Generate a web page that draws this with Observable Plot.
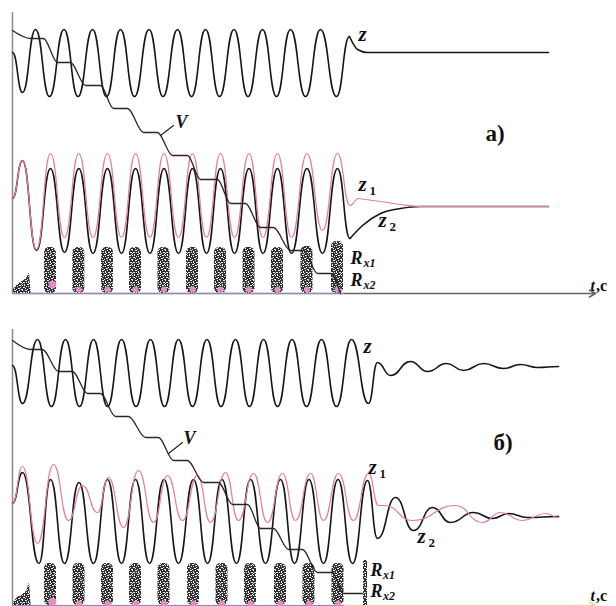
<!DOCTYPE html>
<html><head><meta charset="utf-8">
<script src="https://cdn.jsdelivr.net/npm/d3@7"></script>
<script src="https://cdn.jsdelivr.net/npm/@observablehq/plot@0.6"></script>
<style>
body{margin:0;background:#fff}
#c{width:616px;height:606px;overflow:hidden;position:relative}
#c svg{display:block}
</style>
</head><body><div id="c"></div>
<script>
// ---------- DATA (t in arbitrary time units, values in arbitrary units) ----------
// Panel a)
const zTopOsc = [[0,24.1],[1.0,20.1],[2.3,26.4],[3.7,19.7],[5.15,26.4],[6.55,19.7],[8.0,26.4],[9.4,19.7],[10.8,26.4],[12.2,19.7],[13.65,26.4],[15.05,19.7],[16.5,26.4],[17.9,19.7],[19.3,26.4],[20.7,19.7],[22.15,26.4],[23.55,19.7],[25.0,26.4],[26.4,19.7],[27.8,26.4],[29.3,19.7],[30.8,26.4],[32.4,19.7],[33.7,25.7]];
const zTopTail = [[33.7,25.7],[34.5,24.4],[35.5,24.1],[53.6,24.1]];
const z2TopOsc = [[0,9.5],[1.0,13.3],[2.4,4.3],[3.8,12.5],[5.2,4.1],[6.63,12.5],[8.05,4.0],[9.5,12.5],[10.9,4.0],[12.3,12.5],[13.75,4.0],[15.15,12.5],[16.6,4.0],[18.0,12.5],[19.4,4.0],[20.8,12.5],[22.2,4.0],[23.65,12.5],[25.05,4.0],[26.5,12.5],[27.9,4.0],[29.45,12.5],[31.0,4.0],[32.5,12.5],[33.75,5.5]];
const z2TopTail = [[33.75,5.5],[35.0,6.8],[36.8,8.0],[38.8,8.5],[40.8,8.7],[53.6,8.7]];
const z1TopOsc = [[0,9.5],[1.0,13.3],[2.4,4.4],[3.8,14.0],[5.2,5.6],[6.63,14.0],[8.05,5.6],[9.5,14.0],[10.9,5.6],[12.3,14.0],[13.75,5.6],[15.15,14.0],[16.6,5.6],[18.0,14.0],[19.4,5.6],[20.8,14.0],[22.2,5.6],[23.65,14.0],[25.05,5.6],[26.5,14.0],[27.9,5.6],[29.45,14.0],[31.0,6.3],[32.5,14.0],[33.75,8.8],[34.6,9.5]];
const z1TopTail = [[34.6,9.5],[36.8,9.2],[38.8,8.9],[40.8,8.7],[53.6,8.7]];
const vTop = [[0,26.3],[1.8,25.5],[3.1,25.5],[4.5,23.1],[5.8,23.1],[7.3,20.8],[8.8,20.8],[10.1,18.5],[11.5,18.5],[13.1,16.1],[14.5,16.1],[16.0,13.8],[17.5,13.8],[18.8,11.4],[20.5,11.4],[21.8,9.0],[23.3,9.0],[24.8,6.6],[26.1,6.6],[27.8,4.3],[29.1,4.3],[30.5,2.0],[31.8,2.0],[32.8,0]];
const vLeaderTop = [[14.8,15.8],[16.1,16.8]];
const burstsTop = [[3.8,4.6],[6.63,4.6],[9.5,4.6],[12.3,4.6],[15.15,4.6],[18.0,4.6],[20.8,4.6],[23.65,4.6],[26.5,4.6],[29.45,4.7],[32.5,5.2]];
const smallBurstTop = [[0.1,0.4],[0.5,0.9],[1.0,1.2],[1.4,1.5],[1.7,2.1],[1.85,0.2]];
const blobsTop = [[4.0,0.9,5],[6.63,0.4,3],[9.5,0.4,3],[12.3,0.4,3],[15.15,0.4,3],[18.0,0.4,3],[20.8,0.4,3],[23.65,0.4,3],[26.5,0.4,3],[29.45,0.4,3],[32.5,0.4,3]];
const zLabelsTop = [[34.6,25.3,"z"],[34.6,10.3,"z"],[36.6,6.7,"z"]];
const rLabelsTop = [[33.8,3.0,"R"],[33.8,0.75,"R"]];
const numSubsTop = [[35.7,9.9,"1"],[37.7,6.3,"2"]];
const xSubsTop = [[35.1,2.7,"x1"],[35.1,0.45,"x2"]];
const tagTop = [[47.3,15.3,"a)"]];
const vLabelTop = [[16.3,16.6,"V"]];

// Panel б)
const zBot = [[0,24.0],[1.0,20.2],[2.5,26.6],[3.9,19.9],[5.3,26.6],[6.7,19.9],[8.1,26.6],[9.5,19.9],[10.9,26.6],[12.35,19.9],[13.8,26.6],[15.2,19.9],[16.6,26.6],[18.0,19.9],[19.45,26.6],[20.85,19.9],[22.3,26.6],[23.7,19.9],[25.1,26.6],[26.5,19.9],[27.95,26.6],[29.4,19.9],[30.9,26.6],[32.4,19.9],[33.9,26.6],[35.6,20.2],[36.5,24.3],[37.8,23.0],[39.8,24.4],[41.5,23.4],[43.4,24.2],[45.1,23.5],[47.1,24.2],[49.1,23.7],[50.8,24.1],[52.5,23.8],[54.6,23.9]];
const z2Bot = [[0,10.2],[1.0,13.3],[2.65,4.2],[3.8,12.6],[5.2,4.2],[6.65,12.3],[8.1,4.2],[9.5,12.6],[10.9,4.2],[12.3,12.6],[13.7,4.2],[15.15,12.6],[16.6,4.2],[18.1,12.6],[19.5,4.2],[20.95,12.6],[22.4,4.2],[23.8,12.6],[25.3,4.2],[26.8,12.6],[28.2,4.2],[29.65,12.6],[31.1,4.2],[32.55,12.6],[34.0,4.2],[35.5,12.5],[36.5,6.7],[38.3,10.8],[40.1,7.5],[42.0,9.8],[43.8,8.3],[46.1,9.3],[48.0,8.7],[49.6,9.2],[51.5,8.8],[54.6,8.9]];
const z1Bot = [[0,10.2],[1.0,13.9],[2.5,6.2],[4.1,14.1],[5.6,8.5],[7.0,12.0],[8.5,9.3],[9.6,12.8],[11.1,7.8],[12.6,13.5],[14.1,8.3],[15.5,13.0],[17.0,8.5],[18.5,13.0],[19.8,8.3],[21.3,13.3],[22.6,8.5],[24.1,13.2],[25.5,8.3],[27.0,13.2],[28.3,8.5],[29.8,13.2],[31.1,8.5],[32.6,13.2],[34.1,8.5],[35.6,13.2],[36.6,10.0],[37.2,10.0],[40.0,8.5],[44.3,10.0],[47.0,8.3],[48.8,9.3],[51.0,8.5],[53.3,9.2],[54.6,8.8]];
const vBot = [[0,26.5],[1.8,25.6],[3.0,25.6],[4.6,23.4],[6.0,23.4],[7.5,21.2],[8.8,21.2],[10.3,18.9],[11.6,18.9],[13.3,16.8],[14.6,16.8],[16.1,14.5],[17.5,14.5],[19.1,12.3],[20.6,12.3],[22.0,10.1],[23.5,10.1],[24.8,7.7],[26.1,7.7],[27.6,5.6],[29.0,5.6],[30.5,3.3],[32.0,3.3],[33.1,1.2],[35.0,1.2]];
const vLeaderBot = [[15.6,15.2],[17.0,16.3]];
const burstsBot = [[3.8,4.2],[6.65,4.2],[9.5,4.2],[12.3,4.2],[15.15,4.2],[18.1,4.2],[20.95,4.2],[23.8,4.2],[26.8,4.2],[29.65,4.2],[32.55,4.2]];
const thinBurstBot = [[35.3,4.5]];
const smallBurstBot = [[0.1,0.3],[0.5,0.8],[1.0,1.1],[1.4,1.4],[1.7,2.3],[1.85,0.2]];
const blobsBot = [[4.0,0.4,5],[6.65,0.2,3],[9.5,0.2,3],[12.3,0.2,3],[15.15,0.2,3],[18.1,0.2,3],[20.95,0.2,3],[23.8,0.2,3],[26.8,0.2,3],[29.65,0.2,3],[32.55,0.2,3]];
const zLabelsBot = [[35.1,25.3,"z"],[35.6,13.2,"z"],[40.5,6.3,"z"]];
const rLabelsBot = [[35.8,3.0,"R"],[35.8,0.85,"R"]];
const numSubsBot = [[36.7,12.8,"1"],[41.6,5.9,"2"]];
const xSubsBot = [[37.05,2.7,"x1"],[37.05,0.55,"x2"]];
const tagBot = [[48.1,15.6,"б)"]];
const vLabelBot = [[17.1,16.2,"V"]];

// ---------- RENDER ----------
const root = d3.select("#c");
// irregular speckle pattern for the noisy R_x bursts
const defsSvg = root.append("svg").attr("width",0).attr("height",0).style("position","absolute");
const pat = defsSvg.append("defs").append("pattern").attr("id","speck")
  .attr("patternUnits","userSpaceOnUse").attr("width",11).attr("height",10);
pat.append("rect").attr("width",11).attr("height",10).attr("fill","#303030");
[[0,0,1,1],[3,0,2,1],[8,0,1,1],[6,1,1,2],[1,2,2,1],[4,2,1,1],[9,2,2,1],[0,3,1,1],[7,3,1,1],
 [2,4,1,2],[5,4,2,1],[10,4,1,1],[0,5,1,1],[8,5,2,1],[4,6,1,1],[6,6,1,1],[1,7,2,1],[9,7,1,1],
 [3,8,1,1],[7,8,2,1],[0,9,1,1],[5,9,1,1],[10,9,1,1]].forEach(([x,y,w,h]) =>
  pat.append("rect").attr("x",x).attr("y",y).attr("width",w).attr("height",h).attr("fill","#ececec"));

const X = d => d[0], Y = d => d[1];
const serif = "Liberation Serif, Times New Roman, serif";
const BLACK = "#161616", PINK = "#e47f9b", VCOL = "#2e241b";

function txt(data, size, weight, style) {
  return Plot.text(data, {x: X, y: Y, text: d => d[2], textAnchor: "start", lineAnchor: "bottom",
    fontFamily: serif, fontSize: size, fontWeight: weight, fontStyle: style, fill: "#111"});
}

function panel(o) {
  return Plot.plot({
    width: 616, height: o.height,
    marginLeft: 12, marginRight: 18, marginTop: 0, marginBottom: o.marginBottom,
    x: {domain: [0, 58.6], axis: null},
    y: {domain: [0, o.vmax], axis: null},
    marks: [
      Plot.ruleX([0], {y1: 0, y2: o.axisTop, stroke: "#8a8a8a", strokeWidth: 1.5}),
      Plot.arrow([0], {x1: 0, y1: 0, x2: 58.3, y2: 0, stroke: o.axisColor, strokeWidth: 1.5, headLength: 7}),
      Plot.ruleY([0], {x1: 0, x2: 33.2, stroke: "#9188cc", strokeWidth: 1}),
      Plot.areaY(o.small, {x: X, y: Y, fill: "url(#speck)"}),
      Plot.rect(o.bursts, {x1: d => d[0]-0.6, x2: d => d[0]+0.6, y1: d => 0, y2: Y, fill: "url(#speck)", rx: 5}),
      Plot.rect(o.thin || [], {x1: d => d[0]-0.2, x2: d => d[0]+0.2, y1: d => 0, y2: Y, fill: "url(#speck)"}),
      Plot.dot(o.blobs, {x: X, y: Y, r: d => d[2], fill: "#e48fc4", stroke: "none"}),
      Plot.line(o.z, {x: X, y: Y, curve: "bump-x", stroke: BLACK, strokeWidth: 1.6}),
      Plot.line(o.zTail || [], {x: X, y: Y, curve: "monotone-x", stroke: BLACK, strokeWidth: 1.6}),
      Plot.line(o.z2, {x: X, y: Y, curve: "bump-x", stroke: BLACK, strokeWidth: 1.6}),
      Plot.line(o.z2Tail || [], {x: X, y: Y, curve: "monotone-x", stroke: BLACK, strokeWidth: 1.6}),
      Plot.line(o.z1, {x: X, y: Y, curve: "bump-x", stroke: PINK, strokeWidth: 1.2}),
      Plot.line(o.z1Tail || [], {x: X, y: Y, curve: "monotone-x", stroke: PINK, strokeWidth: 1.2}),
      Plot.line(o.v, {x: X, y: Y, curve: "monotone-x", stroke: VCOL, strokeWidth: 1.3}),
      Plot.line(o.leader, {x: X, y: Y, stroke: VCOL, strokeWidth: 1.2}),
      txt(o.zl, 21, "bold", "italic"),
      txt(o.rl, 18, "bold", "italic"),
      txt(o.num, 13, "bold", "normal"),
      txt(o.xs, 12, "bold", "italic"),
      txt(o.tag, 23, "bold", "normal"),
      txt(o.vl, 18, "bold", "italic"),
      txt([[57.8, o.tcY, "t"]], 16, "bold", "italic"),
      txt([[58.35, o.tcY, ",c"]], 16, "bold", "normal")
    ]
  });
}

root.node().appendChild(panel({
  height: 300, marginBottom: 7, vmax: 29.3, axisTop: 28.1, axisColor: "#6d625c", tcY: 0.3,
  z: zTopOsc, zTail: zTopTail, z2: z2TopOsc, z2Tail: z2TopTail, z1: z1TopOsc, z1Tail: z1TopTail,
  v: vTop, leader: vLeaderTop, bursts: burstsTop, small: smallBurstTop, blobs: blobsTop,
  zl: zLabelsTop, rl: rLabelsTop, num: numSubsTop, xs: xSubsTop, tag: tagTop, vl: vLabelTop
}));
root.node().appendChild(panel({
  height: 306, marginBottom: 1, vmax: 30.5, axisTop: 27.6, axisColor: "#efcdb6", tcY: 0.5,
  z: zBot, z2: z2Bot, z1: z1Bot,
  v: vBot, leader: vLeaderBot, bursts: burstsBot, thin: thinBurstBot, small: smallBurstBot, blobs: blobsBot,
  zl: zLabelsBot, rl: rLabelsBot, num: numSubsBot, xs: xSubsBot, tag: tagBot, vl: vLabelBot
}));
</script>
</body></html>
